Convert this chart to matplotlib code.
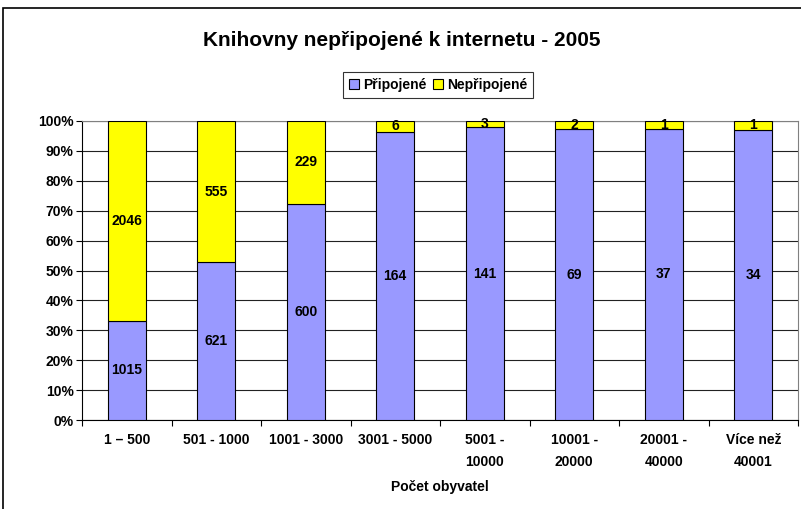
import numpy as np
import matplotlib.pyplot as plt
from matplotlib.patches import Rectangle
from matplotlib.ticker import PercentFormatter

plt.rcParams['font.family'] = ['Liberation Sans', 'DejaVu Sans']

# data
categories = ["1 – 500", "501 - 1000", "1001 - 3000", "3001 - 5000",
              "5001 -\n10000", "10001 -\n20000", "20001 -\n40000", "Více než\n40001"]
pripojene = [1015, 621, 600, 164, 141, 69, 37, 34]
nepripojene = [2046, 555, 229, 6, 3, 2, 1, 1]

W, H = 801, 509
fig = plt.figure(figsize=(W / 100, H / 100), dpi=100)

# outer chart frame (right/bottom edges fall off the canvas, as in the original)
fig.patches.append(Rectangle((3 / W, -0.05), 1.1, 1 - 8 / H + 0.05,
                             transform=fig.transFigure, fill=False,
                             edgecolor="black", linewidth=1.2))

ax = fig.add_axes([82 / W, (H - 420) / H, (798 - 82) / W, (420 - 121) / H])

pri = np.array(pripojene, dtype=float)
nep = np.array(nepripojene, dtype=float)
tot = pri + nep
p1 = pri / tot * 100
p2 = nep / tot * 100
x = np.arange(len(categories))

ax.bar(x, p1, width=0.42, color="#9999FF", edgecolor="black", linewidth=0.8,
       label="Připojené", zorder=3)
ax.bar(x, p2, width=0.42, bottom=p1, color="#FFFF00", edgecolor="black",
       linewidth=0.8, label="Nepřipojené", zorder=3)

fs = 10
for i in range(len(x)):
    ax.text(x[i], p1[i] / 2, str(pripojene[i]), ha="center", va="center",
            fontsize=fs, fontweight="bold", zorder=4)
    ax.text(x[i], p1[i] + p2[i] / 2, str(nepripojene[i]), ha="center",
            va="center", fontsize=fs, fontweight="bold", zorder=4)

ax.set_xlim(-0.5, len(x) - 0.5)
ax.set_ylim(0, 100)
ax.set_yticks(np.arange(0, 101, 10))
ax.yaxis.set_major_formatter(PercentFormatter(decimals=0))
ax.grid(axis="y", color="#222222", linewidth=0.8, zorder=0)

ax.set_xticks(x)
ax.set_xticklabels(categories, fontsize=fs, fontweight="bold", linespacing=1.75,
                   va="top")
ax.set_xticks(np.arange(-0.5, len(x), 1), minor=True)
ax.tick_params(axis="x", which="major", length=0, pad=9)
ax.tick_params(axis="x", which="minor", length=4, width=0.8)
ax.tick_params(axis="y", length=4, width=0.8, labelsize=fs, pad=2)
for lab in ax.get_yticklabels():
    lab.set_fontweight("bold")

ax.spines["left"].set_color("black")
ax.spines["bottom"].set_color("black")
ax.spines["top"].set_color("#808080")
ax.spines["right"].set_color("#808080")

ax.set_xlabel("Počet obyvatel", fontsize=fs, fontweight="bold", labelpad=8)

fig.text(402 / W, 1 - 40 / H, "Knihovny nepřipojené k internetu - 2005",
         ha="center", va="center", fontsize=15, fontweight="bold")

leg = fig.legend(loc="center", bbox_to_anchor=(438 / W, 1 - 85 / H), ncol=2,
                 frameon=True, fancybox=False, edgecolor="black",
                 prop={"size": fs, "weight": "bold"}, handlelength=0.7,
                 handleheight=0.7, handletextpad=0.3, columnspacing=0.5,
                 borderpad=0.45)
leg.get_frame().set_linewidth(0.8)

fig.savefig("out.png", dpi=100)
